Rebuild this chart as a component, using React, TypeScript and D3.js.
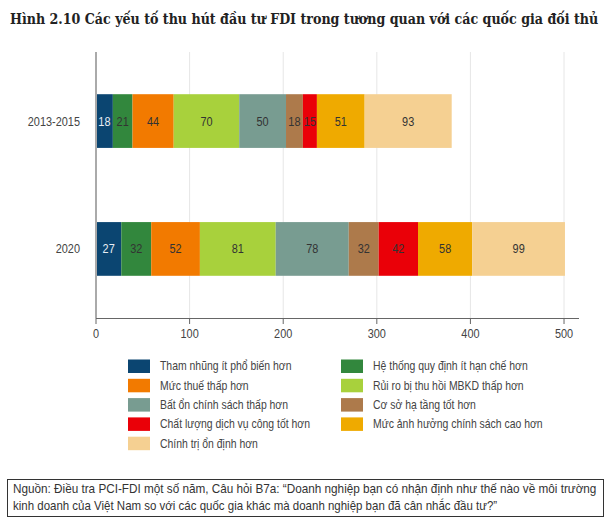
import React, { useLayoutEffect, useRef, useState } from "react";
import * as d3 from "d3";

const title = "Hình 2.10 Các yếu tố thu hút đầu tư FDI trong tương quan với các quốc gia đối thủ";
const categories = ["2013-2015", "2020"];
const seriesNames = [
  "Tham nhũng ít phổ biến hơn",
  "Hệ thống quy định ít hạn chế hơn",
  "Mức thuế thấp hơn",
  "Rủi ro bị thu hồi MBKD thấp hơn",
  "Bất ổn chính sách thấp hơn",
  "Cơ sở hạ tầng tốt hơn",
  "Chất lượng dịch vụ công tốt hơn",
  "Mức ảnh hưởng chính sách cao hơn",
  "Chính trị ổn định hơn",
];
const values2013 = [18, 21, 44, 70, 50, 18, 15, 51, 93];
const values2020 = [27, 32, 52, 81, 78, 32, 42, 58, 99];
const seriesColors = [
  "#0b4571",
  "#32873d",
  "#f27a00",
  "#a8d13c",
  "#789c91",
  "#ad7a4b",
  "#ea0008",
  "#efaa00",
  "#f5d092",
];
const labelColors = ["#e9eef4", "#333", "#333", "#333", "#333", "#333", "#333", "#333", "#333"];
const xTicks = [0, 100, 200, 300, 400, 500];
const xDomainMax = 516;
const sourceLines = [
  "Nguồn: Điều tra PCI-FDI một số năm, Câu hỏi B7a: “Doanh nghiệp bạn có nhận định như thế nào về môi trường",
  "kinh doanh của Việt Nam so với các quốc gia khác mà doanh nghiệp bạn đã cân nhắc đầu tư?”",
];

const W = 611;
const H = 530;
const sans = "'Liberation Sans', Arial, sans-serif";

function NText(props: {
  x: number;
  y: number;
  anchor?: string;
  size: number;
  fill: string;
  sx?: number;
  children: React.ReactNode;
}) {
  const sx = props.sx ?? 0.84;
  return (
    <text
      transform={`translate(${props.x},${props.y}) scale(${sx},1)`}
      dy="0.35em"
      textAnchor={props.anchor ?? "start"}
      fontFamily={sans}
      fontSize={props.size}
      fill={props.fill}
    >
      {props.children}
    </text>
  );
}

function FitText(props: {
  x: number;
  y: number;
  width: number;
  size: number;
  family: string;
  weight?: string;
  fill: string;
  children: string;
}) {
  const ref = useRef<SVGTextElement>(null);
  const [sx, setSx] = useState(0.85);
  useLayoutEffect(() => {
    if (ref.current) {
      const len = ref.current.getComputedTextLength();
      if (len > 0) setSx(props.width / len);
    }
  }, [props.width, props.children]);
  return (
    <text
      ref={ref}
      transform={`translate(${props.x},${props.y}) scale(${sx},1)`}
      fontFamily={props.family}
      fontWeight={props.weight}
      fontSize={props.size}
      fill={props.fill}
    >
      {props.children}
    </text>
  );
}

export default function App() {
  const rows = [values2013, values2020];
  const x = d3.scaleLinear().domain([0, xDomainMax]).range([96, 579]);
  const y = d3
    .scaleBand<string>()
    .domain(categories)
    .range([52, 318])
    .paddingInner(0.58)
    .paddingOuter(0.33);

  const stackData = categories.map((c, i) => {
    const o: any = { cat: c };
    seriesNames.forEach((s, j) => (o[s] = rows[i][j]));
    return o;
  });
  const stacked = d3.stack<any>().keys(seriesNames)(stackData);

  return (
    <svg
      width={W}
      height={H}
      style={{ position: "absolute", left: 0, top: 0, background: "#fff" }}
    >
      <FitText
        x={10}
        y={24}
        width={588}
        size={15}
        family="'DejaVu Serif Condensed', 'DejaVu Serif', serif"
        weight="bold"
        fill="#222"
      >
        {title}
      </FitText>

      {/* gridlines */}
      {xTicks.slice(1).map((t) => (
        <line key={t} x1={x(t)} x2={x(t)} y1={52} y2={318} stroke="#e6e6e6" strokeWidth={1} />
      ))}

      {/* bars */}
      {stacked.map((layer, j) =>
        layer.map((d, i) => {
          const x0 = x(d[0]);
          const x1 = x(d[1]);
          const yy = y(categories[i])!;
          const bw = y.bandwidth();
          return (
            <g key={`${j}-${i}`}>
              <rect x={x0} y={yy} width={x1 - x0} height={bw} fill={seriesColors[j]} />
              <NText x={(x0 + x1) / 2} y={yy + bw / 2} anchor="middle" size={13} fill={labelColors[j]}>
                {rows[i][j]}
              </NText>
            </g>
          );
        })
      )}

      {/* y axis */}
      <line x1={96} x2={96} y1={52} y2={318} stroke="#aaa" strokeWidth={2} />
      {categories.map((c) => (
        <NText key={c} x={80} y={y(c)! + y.bandwidth() / 2} anchor="end" size={13} fill="#444">
          {c}
        </NText>
      ))}

      {/* x axis */}
      <line x1={96} x2={579} y1={318.5} y2={318.5} stroke="#666" strokeWidth={1} />
      {xTicks.map((t) => (
        <g key={t}>
          <line x1={x(t)} x2={x(t)} y1={318} y2={324} stroke="#666" strokeWidth={1} />
          <NText x={x(t)} y={333} anchor="middle" size={13} fill="#444">
            {t}
          </NText>
        </g>
      ))}

      {/* legend */}
      {seriesNames.map((s, j) => {
        const col = j % 2;
        const row = Math.floor(j / 2);
        const lx = col === 0 ? 128 : 341;
        const ly = 359.5 + row * 19.3;
        return (
          <g key={s}>
            <rect x={lx} y={ly} width={22} height={13.5} fill={seriesColors[j]} />
            <NText x={lx + 32} y={ly + 6.75} size={12} sx={0.87} fill="#444">
              {s}
            </NText>
          </g>
        );
      })}

      {/* source box */}
      <rect x={7.5} y={479.5} width={596} height={37} fill="none" stroke="#333" strokeWidth={1} />
      {sourceLines.map((l, i) => (
        <FitText
          key={i}
          x={13}
          y={493 + i * 17}
          width={i === 0 ? 584 : 484}
          size={12.5}
          family={sans}
          fill="#333"
        >
          {l}
        </FitText>
      ))}
    </svg>
  );
}
